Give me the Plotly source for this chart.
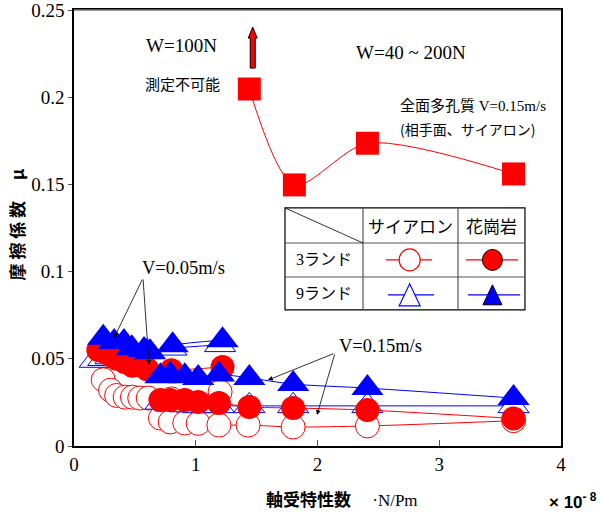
import plotly.graph_objects as go

# ---- data: bearing characteristic number (x1e-8) vs friction coefficient ----
# fully porous bearing, V=0.15 m/s (counter face: sialon)
porous_x = [1.44, 1.81, 2.41, 3.61]
porous_mu = [0.2047, 0.1497, 0.1736, 0.1560]

# 3-land, sialon (open circles)
sia3_v005_x = [0.24, 0.30, 0.35, 0.42, 0.48, 0.54, 0.61, 0.80, 1.20]
sia3_v005_mu = [0.038, 0.032, 0.029, 0.028, 0.028, 0.0275, 0.0275, 0.027, 0.031]
sia3_v015_x = [0.71, 0.79, 0.91, 1.02, 1.19, 1.43, 1.80, 2.41, 3.61]
sia3_v015_mu = [0.016, 0.0138, 0.0132, 0.0130, 0.012, 0.012, 0.0109, 0.0115, 0.0145]

# 3-land, granite (filled circles)
gra3_v005_x = [0.20, 0.25, 0.30, 0.35, 0.42, 0.48, 0.60, 0.80, 1.22]
gra3_v005_mu = [0.055, 0.054, 0.052, 0.050, 0.048, 0.046, 0.044, 0.0435, 0.0453]
gra3_v015_x = [0.71, 0.79, 0.91, 1.02, 1.19, 1.44, 1.80, 2.41, 3.61]
gra3_v015_mu = [0.0264, 0.0264, 0.0264, 0.0252, 0.0247, 0.0224, 0.0218, 0.0206, 0.0158]

# 9-land, sialon (open triangles)
sia9_v005_x = [0.17, 0.24, 0.30, 0.35, 0.42, 0.48, 0.60, 0.80, 1.20]
sia9_v005_mu = [0.049, 0.050, 0.051, 0.052, 0.053, 0.053, 0.054, 0.056, 0.058]
sia9_v015_x = [0.71, 0.79, 0.91, 1.02, 1.19, 1.44, 1.80, 2.41, 3.61]
sia9_v015_mu = [0.025, 0.024, 0.0235, 0.023, 0.023, 0.023, 0.023, 0.023, 0.023]

# 9-land, granite (filled triangles)
gra9_v005_x = [0.24, 0.33, 0.41, 0.475, 0.575, 0.625, 0.81, 1.22]
gra9_v005_mu = [0.062, 0.0596, 0.0596, 0.0561, 0.055, 0.0538, 0.0578, 0.0607]
gra9_v015_x = [0.71, 0.79, 0.91, 1.02, 1.19, 1.44, 1.80, 2.41, 3.61]
gra9_v015_mu = [0.040, 0.041, 0.040, 0.039, 0.041, 0.039, 0.0355, 0.0332, 0.0275]

x_ticks = [0, 1, 2, 3, 4]
y_ticks = [0, 0.05, 0.1, 0.15, 0.2, 0.25]
y_tick_text = ["0", "0.05", "0.1", "0.15", "0.2", "0.25"]

RED = "#ff0000"
BLUE = "#0000ff"
SERIF_JP = "Liberation Serif, Noto Sans CJK JP"
GOTHIC = "Noto Sans CJK JP"

fig = go.Figure()


def add_series(x, y, color, symbol, filled, size):
    fig.add_trace(go.Scatter(
        x=x, y=y, mode="lines+markers",
        line=dict(color=color, width=1, shape="spline", smoothing=0.8),
        marker=dict(symbol=symbol, size=size,
                    color=color if filled else "white",
                    line=dict(color=color, width=0 if filled else 1)),
        showlegend=False, hoverinfo="skip"))


# fully porous squares
fig.add_trace(go.Scatter(
    x=porous_x, y=porous_mu, mode="lines+markers",
    line=dict(color=RED, width=1, shape="spline", smoothing=0.8),
    marker=dict(symbol="square", size=23, color=RED),
    showlegend=False, hoverinfo="skip"))

add_series(sia3_v005_x, sia3_v005_mu, RED, "circle", False, 24)
add_series(sia3_v015_x, sia3_v015_mu, RED, "circle", False, 24)
add_series(sia9_v005_x, sia9_v005_mu, BLUE, "triangle-up", False, 27)
add_series(sia9_v015_x, sia9_v015_mu, BLUE, "triangle-up", False, 27)
add_series(gra3_v005_x, gra3_v005_mu, RED, "circle", True, 24)
add_series(gra3_v015_x, gra3_v015_mu, RED, "circle", True, 24)
add_series(gra9_v005_x, gra9_v005_mu, BLUE, "triangle-up", True, 28)
add_series(gra9_v015_x, gra9_v015_mu, BLUE, "triangle-up", True, 28)

shapes = []
# legend table
tx = [1.733, 2.374, 3.154, 3.704]
ty = [0.1365, 0.1164, 0.0969, 0.0780]
shapes.append(dict(type="rect", xref="x", yref="y", x0=tx[0], x1=tx[3], y0=ty[3], y1=ty[0],
                   fillcolor="white", line=dict(color="black", width=1.2), layer="above"))
for yy in ty[1:3]:
    shapes.append(dict(type="line", xref="x", yref="y", x0=tx[0], x1=tx[3], y0=yy, y1=yy,
                       line=dict(color="#555555", width=1.2), layer="above"))
for xx in tx[1:3]:
    shapes.append(dict(type="line", xref="x", yref="y", x0=xx, x1=xx, y0=ty[3], y1=ty[0],
                       line=dict(color="#555555", width=1.2), layer="above"))
shapes.append(dict(type="line", xref="x", yref="y", x0=tx[0], x1=tx[1], y0=ty[0], y1=ty[1],
                   line=dict(color="black", width=0.8), layer="above"))

row2_y, row3_y = 0.1067, 0.0867
col2_x, col3_x = 2.757, 3.437
# legend sample lines
for (xa, xb, yy, c) in [(2.562, 2.940, row2_y, RED), (3.220, 3.647, row2_y, RED),
                        (2.579, 2.957, row3_y, BLUE), (3.236, 3.663, row3_y, BLUE)]:
    shapes.append(dict(type="line", xref="x", yref="y", x0=xa, x1=xb, y0=yy, y1=yy,
                       line=dict(color=c, width=1.2), layer="above"))
# legend sample glyphs (pixel-sized, anchored in data space)
shapes.append(dict(type="circle", xref="x", yref="y", xsizemode="pixel", ysizemode="pixel",
                   xanchor=col2_x, yanchor=row2_y, x0=-10.5, x1=10.5, y0=-11, y1=11,
                   fillcolor="white", line=dict(color=RED, width=1.2), layer="above"))
shapes.append(dict(type="circle", xref="x", yref="y", xsizemode="pixel", ysizemode="pixel",
                   xanchor=col3_x, yanchor=row2_y, x0=-10, x1=10, y0=-10.5, y1=10.5,
                   fillcolor=RED, line=dict(color="black", width=1), layer="above"))
shapes.append(dict(type="path", xref="x", yref="y", xsizemode="pixel", ysizemode="pixel",
                   xanchor=col2_x, yanchor=row3_y, path="M -10.5,-11 L 10.5,-11 L 0,11 Z",
                   fillcolor="white", line=dict(color=BLUE, width=1.2), layer="above"))
shapes.append(dict(type="path", xref="x", yref="y", xsizemode="pixel", ysizemode="pixel",
                   xanchor=col3_x, yanchor=row3_y, path="M -9.5,-10 L 9.5,-10 L 0,10 Z",
                   fillcolor=BLUE, line=dict(color="black", width=1), layer="above"))

# upward red arrow (W=100N, measurement not possible)
shapes.append(dict(type="path", xref="x", yref="y", xsizemode="pixel", ysizemode="pixel",
                   xanchor=1.468, yanchor=0.2167,
                   path="M -2.5,0 L 2.5,0 L 2.5,30 L 4.5,30 L 0,41 L -4.5,30 L -2.5,30 Z",
                   fillcolor=RED, line=dict(color="black", width=1), layer="above"))
# grey top frame line
shapes.append(dict(type="line", xref="paper", yref="paper", x0=0, x1=1, y0=1, y1=1,
                   line=dict(color="#777777", width=1.5), layer="above"))

annotations = []


def text(x, y, s, size, family, xanchor="center"):
    annotations.append(dict(x=x, y=y, xref="x", yref="y", text=s, showarrow=False,
                            xanchor=xanchor, yanchor="middle",
                            font=dict(size=size, family=family, color="black")))


def arrow(x, y, ax, ay):
    annotations.append(dict(x=x, y=y, ax=ax, ay=ay, xref="x", yref="y", axref="x", ayref="y",
                            text="", showarrow=True, arrowhead=2, arrowsize=1.2,
                            arrowwidth=0.8, arrowcolor="black"))


text(0.887, 0.2299, "W=100N", 19, SERIF_JP)
text(0.895, 0.2076, "測定不可能", 15, GOTHIC)
text(2.768, 0.2259, "W=40 ~ 200N", 19, SERIF_JP)
text(2.661, 0.1955, "全面多孔質 V=0.15m/s", 15, SERIF_JP, "left")
text(2.661, 0.1818, "(相手面、サイアロン)", 14, GOTHIC, "left")
text(0.542, 0.1021, "V=0.05m/s", 18.5, SERIF_JP, "left")
text(2.160, 0.0573, "V=0.15m/s", 18.5, SERIF_JP, "left")
text(2.760, 0.1263, "サイアロン", 17, GOTHIC)
text(3.429, 0.1263, "花崗岩", 17, GOTHIC)
text(2.050, 0.1067, "3ランド", 16, SERIF_JP)
text(2.050, 0.0872, "9ランド", 16, SERIF_JP)
arrow(0.3286, 0.0619, 0.567, 0.0963)
arrow(0.616, 0.0464, 0.567, 0.0963)
arrow(1.593, 0.0378, 2.144, 0.0533)
arrow(1.996, 0.0178, 2.144, 0.0533)

# axis titles
annotations.append(dict(x=0.55, y=-0.125, xref="paper", yref="paper", showarrow=False,
                        text="<b>軸受特性数</b>　 ·N/Pm", xanchor="center", yanchor="middle",
                        font=dict(size=17, family=SERIF_JP, color="black")))
annotations.append(dict(x=1.079, y=-0.125, xref="paper", yref="paper", showarrow=False,
                        text="<b>× 10</b><sup><b>- 8</b></sup>", xanchor="right", yanchor="middle",
                        font=dict(size=17, family="Liberation Sans", color="black")))
annotations.append(dict(x=-0.118, y=0.507, xref="paper", yref="paper", showarrow=False,
                        text="<b>摩 擦 係 数　 μ</b>", textangle=-90, xanchor="center",
                        yanchor="middle", font=dict(size=17, family=GOTHIC, color="black")))

fig.update_layout(
    width=602, height=517,
    margin=dict(l=74, r=41, t=10, b=71, autoexpand=False),
    plot_bgcolor="white", paper_bgcolor="white",
    shapes=shapes, annotations=annotations,
    showlegend=False,
    xaxis=dict(range=[0, 4], tickvals=x_ticks, ticks="inside", ticklen=6, tickcolor="#555555",
               automargin=False, ticklabeloverflow="allow",
               showgrid=False, zeroline=False, showline=True, linecolor="black", linewidth=1.5,
               mirror=True, tickfont=dict(family="Liberation Serif", size=19, color="black")),
    yaxis=dict(range=[0, 0.25], tickvals=y_ticks, ticktext=y_tick_text, ticks="outside",
               ticklen=4, tickcolor="#555555", automargin=False, ticklabeloverflow="allow",
               showgrid=False, zeroline=False, showline=True, linecolor="black", linewidth=1.5,
               mirror=True, tickfont=dict(family="Liberation Serif", size=19, color="black")),
)

fig.write_html("out.html")
